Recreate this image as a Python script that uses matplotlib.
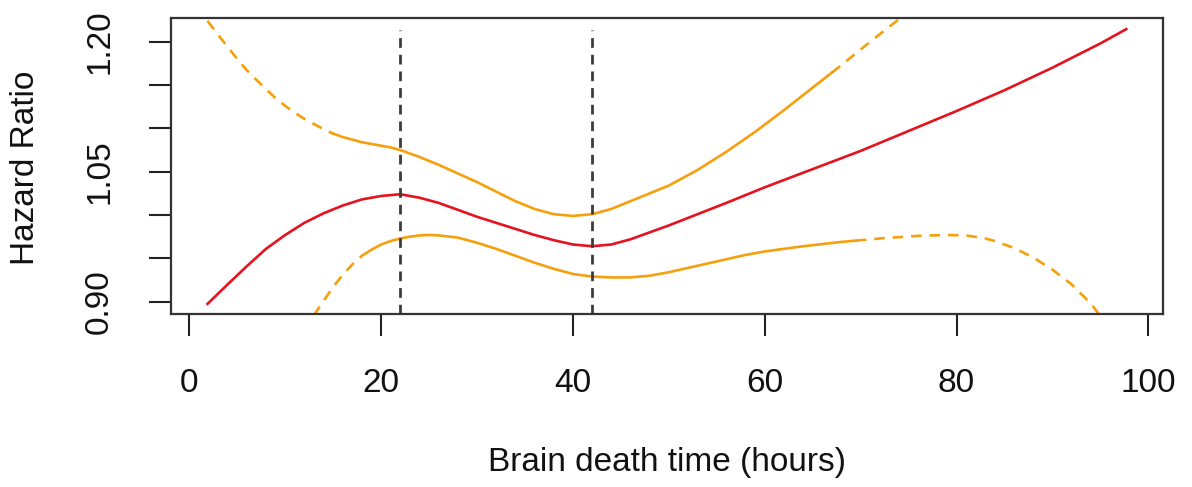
import matplotlib
matplotlib.use("Agg")
import matplotlib.pyplot as plt
import numpy as np

plt.rcParams['font.family'] = ['Liberation Sans', 'DejaVu Sans']

# hazard ratio estimate (red)
hr_x = [1.9, 4, 6, 8, 10, 12, 14, 16, 18, 20, 22, 24, 26, 28, 30, 32, 34, 36,
        38, 40, 42, 44, 46, 48, 50, 53, 56, 60, 65, 70, 75, 80, 85, 90, 95, 97.7]
hr_y = [0.8975, 0.920, 0.941, 0.961, 0.977, 0.991, 1.002, 1.011, 1.018, 1.022,
        1.024, 1.020, 1.014, 1.006, 0.998, 0.991, 0.984, 0.977, 0.971, 0.966,
        0.964, 0.966, 0.972, 0.980, 0.988, 1.001, 1.014, 1.032, 1.053, 1.074,
        1.097, 1.120, 1.144, 1.170, 1.198, 1.2145]

# upper confidence band (orange)
up_x = [1.9, 3, 4, 5, 6, 7, 8, 9, 10, 11, 12, 13, 14, 15, 16, 17, 18, 19, 20,
        21, 22, 24, 26, 28, 30, 32, 34, 36, 38, 40, 42, 44, 46, 48, 50, 53, 56,
        59, 62, 65, 68, 71, 74, 76]
up_y = [1.224, 1.208, 1.194, 1.180, 1.167, 1.156, 1.145, 1.135, 1.126, 1.118,
        1.111, 1.105, 1.099, 1.094, 1.090, 1.087, 1.084, 1.082, 1.080, 1.078,
        1.075, 1.067, 1.058, 1.048, 1.038, 1.027, 1.016, 1.007, 1.001, 0.999,
        1.001, 1.007, 1.016, 1.025, 1.034, 1.052, 1.073, 1.096, 1.121, 1.147,
        1.173, 1.200, 1.226, 1.244]

# lower confidence band (orange)
lo_x = [12, 13, 14, 15, 16, 17, 18, 19, 20, 21, 22, 23, 24, 25, 26, 28, 30,
        32, 34, 36, 38, 40, 42, 44, 46, 48, 50, 52, 54, 56, 58, 60, 64, 68,
        72, 76, 79, 81, 83, 84, 86, 88, 90, 92, 94, 95.5]
lo_y = [0.866, 0.8845, 0.901, 0.917, 0.931, 0.943, 0.953, 0.960, 0.966,
        0.970, 0.973, 0.975, 0.9765, 0.977, 0.9765, 0.974, 0.968, 0.961,
        0.953, 0.945, 0.938, 0.932, 0.929, 0.928, 0.928, 0.930, 0.934, 0.939,
        0.944, 0.949, 0.954, 0.958, 0.964, 0.969, 0.973, 0.976, 0.977, 0.9765,
        0.973, 0.970, 0.962, 0.951, 0.937, 0.920, 0.898, 0.876]

# knots
knots = [22, 42]

x_ticks = [0, 20, 40, 60, 80, 100]
y_ticks = [0.90, 0.95, 1.00, 1.05, 1.10, 1.15, 1.20]
y_labels = ["0.90", "", "", "1.05", "", "", "1.20"]

RED = "#e5121f"
ORANGE = "#f5a00c"


def plot_band(ax, xs, ys, lo_cut, hi_cut):
    xs = np.asarray(xs, float)
    ys = np.asarray(ys, float)
    left = xs <= lo_cut
    mid = (xs >= lo_cut) & (xs <= hi_cut)
    right = xs >= hi_cut
    # add the cut points so the pieces join up
    y_lo = np.interp(lo_cut, xs, ys)
    y_hi = np.interp(hi_cut, xs, ys)
    xl = np.append(xs[left], lo_cut)
    yl = np.append(ys[left], y_lo)
    xm = np.concatenate([[lo_cut], xs[mid], [hi_cut]])
    ym = np.concatenate([[y_lo], ys[mid], [y_hi]])
    xr = np.insert(xs[right], 0, hi_cut)
    yr = np.insert(ys[right], 0, y_hi)
    ax.plot(xl, yl, color=ORANGE, lw=1.9, dashes=(4, 3))
    ax.plot(xm, ym, color=ORANGE, lw=1.9, solid_joinstyle="round")
    ax.plot(xr, yr, color=ORANGE, lw=1.9, dashes=(4, 3))


fig = plt.figure(figsize=(11.92, 4.87), dpi=100)
ax = fig.add_axes([0.1432, 0.3546, 0.8327, 0.6078])

ax.set_xlim(-1.94, 101.56)
ax.set_ylim(0.88546, 1.2270)

plot_band(ax, up_x, up_y, 15, 67)
plot_band(ax, lo_x, lo_y, 18.5, 69.5)
ax.plot(hr_x, hr_y, color=RED, lw=1.9, solid_joinstyle="round")

for k in knots:
    ax.vlines(k, 0.88546, 1.213, colors="#3c3c3c", lw=2.0,
              linestyles=(0, (3.5, 2.5)))

for s in ax.spines.values():
    s.set_color("#333333")
    s.set_linewidth(1.6)

ax.set_xticks(x_ticks)
ax.set_yticks(y_ticks)
ax.set_yticklabels(y_labels, rotation=90, va="center")
ax.tick_params(axis="both", direction="out", length=16, width=1.5,
               color="#222222", labelsize=24, labelcolor="#111111")
ax.tick_params(axis="x", pad=23)
ax.tick_params(axis="y", pad=24)

fig.text(0.5597, 1 - 463 / 487, "Brain death time (hours)", fontsize=24,
         ha="center", va="center", color="#111111")
fig.text(26 / 1192, 1 - 168 / 487, "Hazard Ratio", fontsize=24,
         rotation=90, ha="center", va="center", color="#111111")

fig.savefig("out.png", dpi=100)
